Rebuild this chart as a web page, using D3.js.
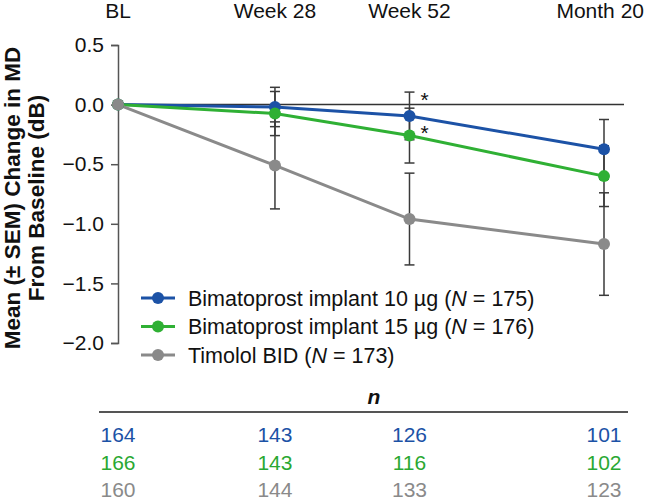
<!DOCTYPE html>
<html>
<head>
<meta charset="utf-8">
<script src="https://cdn.jsdelivr.net/npm/d3@7/dist/d3.min.js"></script>
<style>
  html, body { margin: 0; padding: 0; background: #fff; }
  svg { display: block; }
  text { font-family: "Liberation Sans", Arial, sans-serif; }
</style>
</head>
<body>
<svg id="chart" width="645" height="502"></svg>
<script>
// ---- data ----
const timepoints = ["BL", "Week 28", "Week 52", "Month 20"];
const timeWeeks = [0, 28, 52, 86.7];
const seriesNames = ["Bimatoprost implant 10 µg", "Bimatoprost implant 15 µg", "Timolol BID"];
const seriesN = [175, 176, 173];
const seriesColors = ["#1c52a6", "#2fb034", "#8a8a8a"];
const textColors = ["#1c52a6", "#2aa832", "#8a8a8a"];
const mean10 = [0, -0.02, -0.095, -0.375];
const sem10 = [0, 0.165, 0.20, 0.25];
const mean15 = [0, -0.075, -0.26, -0.60];
const sem15 = [0, 0.185, 0.23, 0.255];
const meanTim = [0, -0.51, -0.96, -1.17];
const semTim = [0, 0.365, 0.385, 0.43];
const n10 = [164, 143, 126, 101];
const n15 = [166, 143, 116, 102];
const nTim = [160, 144, 133, 123];
const yTicks = [0.5, 0.0, -0.5, -1.0, -1.5, -2.0];
const asterisks = [{ week: 52, value: 0.065 }, { week: 52, value: -0.21 }];

const means = [mean10, mean15, meanTim];
const sems = [sem10, sem15, semTim];
const ns = [n10, n15, nTim];

// ---- layout ----
const svg = d3.select("#chart");
const W = 645;
const FONT = 21;
const x = d3.scaleLinear().domain([0, 86.7]).range([118, 604]);
const y = d3.scaleLinear().domain([-2, 0.5]).range([343, 45]);
const axisColor = "#555";

// top time labels
svg.append("g").selectAll("text").data(timepoints).join("text")
  .attr("x", (d, i) => x(timeWeeks[i]))
  .attr("y", 18)
  .attr("text-anchor", "middle")
  .attr("font-size", FONT)
  .attr("fill", "#111")
  .text(d => d)
  .each(function () {
    const bb = this.getBBox();
    if (bb.x + bb.width > W - 1) {
      d3.select(this).attr("x", +d3.select(this).attr("x") - (bb.x + bb.width - (W - 1)));
    }
  });

// y axis
const yAxis = d3.axisLeft(y).tickValues(yTicks).tickSize(7).tickPadding(7)
  .tickFormat(d => d3.format(".1f")(d).replace("-", "\u2212"));
const gy = svg.append("g").attr("transform", `translate(${x(0)},0)`).call(yAxis);
gy.select(".domain").attr("stroke", axisColor).attr("stroke-width", 1.5);
gy.selectAll(".tick line").attr("stroke", axisColor).attr("stroke-width", 1.5);
gy.selectAll(".tick text").attr("font-size", FONT).attr("fill", "#111")
  .attr("font-family", '"Liberation Sans", Arial, sans-serif');

// y axis title
const yt = svg.append("text")
  .attr("transform", `translate(0,${(y(0.5) + y(-2)) / 2 + 4}) rotate(-90)`)
  .attr("text-anchor", "middle")
  .attr("font-size", 22.5)
  .attr("font-weight", "bold")
  .attr("fill", "#111");
yt.append("tspan").attr("x", 0).attr("dy", 20).text("Mean (± SEM) Change in MD");
yt.append("tspan").attr("x", 0).attr("dy", 23.5).text("From Baseline (dB)");

// zero line
svg.append("line")
  .attr("x1", x(0)).attr("x2", x(0) + 506)
  .attr("y1", y(0)).attr("y2", y(0))
  .attr("stroke", "#333").attr("stroke-width", 1.5);

// lines
const line = d3.line().x((d, i) => x(timeWeeks[i])).y(d => y(d));
svg.append("g").selectAll("path").data(means).join("path")
  .attr("d", d => line(d))
  .attr("fill", "none")
  .attr("stroke", (d, i) => seriesColors[i])
  .attr("stroke-width", 3);

// error bars
const eb = svg.append("g").attr("stroke", "#3a3a3a").attr("stroke-width", 1.5);
means.forEach((m, s) => {
  m.forEach((v, i) => {
    const e = sems[s][i];
    if (e <= 0) return;
    const cx = x(timeWeeks[i]);
    eb.append("line").attr("x1", cx).attr("x2", cx).attr("y1", y(v + e)).attr("y2", y(v - e));
    [v + e, v - e].forEach(t => {
      eb.append("line").attr("x1", cx - 5).attr("x2", cx + 5).attr("y1", y(t)).attr("y2", y(t));
    });
  });
});

// points
means.forEach((m, s) => {
  svg.append("g").selectAll("circle").data(m).join("circle")
    .attr("cx", (d, i) => x(timeWeeks[i]))
    .attr("cy", d => y(d))
    .attr("r", 6)
    .attr("fill", seriesColors[s]);
});

// asterisks
svg.append("g").selectAll("text").data(asterisks).join("text")
  .attr("x", d => x(d.week) + 15)
  .attr("y", d => y(d.value) + 10)
  .attr("text-anchor", "middle")
  .attr("font-size", FONT)
  .attr("fill", "#111")
  .text("*");

// legend
const legend = svg.append("g");
seriesNames.forEach((name, i) => {
  const ly = 298 + i * 28.5;
  legend.append("line").attr("x1", 141).attr("x2", 175).attr("y1", ly).attr("y2", ly)
    .attr("stroke", seriesColors[i]).attr("stroke-width", 3);
  legend.append("circle").attr("cx", 158).attr("cy", ly).attr("r", 6).attr("fill", seriesColors[i]);
  const t = legend.append("text").attr("x", 188).attr("y", ly + 7.5)
    .attr("font-size", 21.5).attr("fill", "#111");
  t.append("tspan").text(name + " (");
  t.append("tspan").attr("font-style", "italic").text("N");
  t.append("tspan").text(" = " + seriesN[i] + ")");
});

// n table
svg.append("text").attr("x", 374).attr("y", 404)
  .attr("text-anchor", "middle").attr("font-size", FONT)
  .attr("font-weight", "bold").attr("font-style", "italic").attr("fill", "#111")
  .text("n");
svg.append("line").attr("x1", 99).attr("x2", 628).attr("y1", 412).attr("y2", 412)
  .attr("stroke", "#555").attr("stroke-width", 2);
ns.forEach((row, s) => {
  svg.append("g").selectAll("text").data(row).join("text")
    .attr("x", (d, i) => x(timeWeeks[i]))
    .attr("y", 442 + s * 27.5)
    .attr("text-anchor", "middle")
    .attr("font-size", FONT)
    .attr("fill", textColors[s])
    .text(d => d);
});
</script>
</body>
</html>
